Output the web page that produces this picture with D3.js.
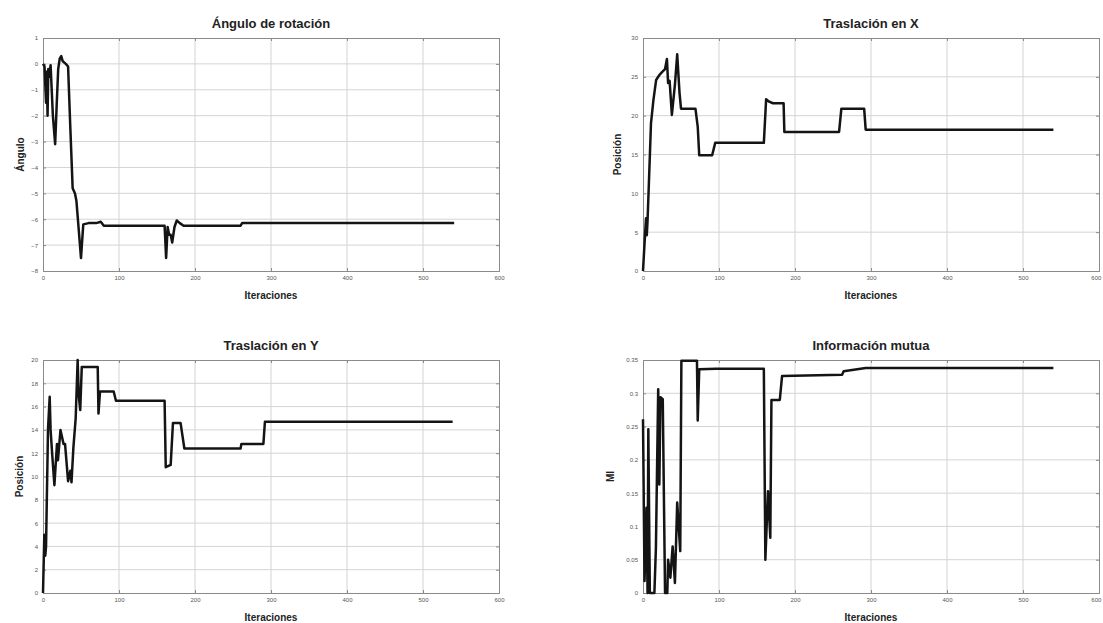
<!DOCTYPE html>
<html>
<head>
<meta charset="utf-8">
<script src="https://cdnjs.cloudflare.com/ajax/libs/d3/7.8.5/d3.min.js"></script>
<style>
  body { margin: 0; background: #fff; }
  svg { display: block; font-family: "Liberation Sans", Arial, sans-serif; }
  .grid line { stroke: #d4d4d4; stroke-width: 1; }
  .ax path { stroke: #8a8a8a; }
  .ax line { stroke: #8a8a8a; }
  .ax text { fill: #555; font-size: 6px; }
</style>
</head>
<body>
<div id="chart"></div>
<script>
// --- datos ---
var xTicks = [0, 100, 200, 300, 400, 500, 600];

var anguloIter = [0, 2, 4, 5, 6, 7, 8, 10, 13, 16, 18, 20, 22, 24, 26, 30, 33, 36, 39, 42, 44, 47, 50, 53, 60, 70, 76, 80, 120, 160, 162, 164, 166, 168, 170, 173, 176, 180, 185, 230, 260, 262, 400, 541];
var anguloVal  = [0, -0.1, -1.5, -0.3, -2.0, -0.2, -0.5, -0.05, -2.0, -3.1, -1.6, -0.2, 0.2, 0.3, 0.1, 0.0, -0.1, -2.5, -4.8, -5.0, -5.3, -6.4, -7.5, -6.2, -6.15, -6.15, -6.1, -6.25, -6.25, -6.25, -7.5, -6.3, -6.6, -6.6, -6.9, -6.3, -6.05, -6.15, -6.25, -6.25, -6.25, -6.15, -6.15, -6.15];

var trasXIter = [0, 2, 4, 5, 6, 8, 10.5, 13.7, 17.3, 22, 25, 29, 31.5, 33, 35, 38, 42, 45, 48, 50, 69, 72, 74, 91, 95, 159, 162, 166, 171, 185, 186, 258, 261, 291, 293, 540];
var trasXVal  = [0, 3.5, 6.8, 4.6, 6.5, 12, 19, 22, 24.6, 25.3, 25.6, 26, 27.3, 24.2, 24.5, 20.1, 24, 27.9, 23, 20.9, 20.9, 18.6, 14.9, 14.9, 16.5, 16.5, 22.1, 21.8, 21.6, 21.6, 17.9, 17.9, 20.9, 20.9, 18.2, 18.2];

var trasYIter = [0, 1.75, 3, 4, 6.6, 8.8, 10, 12, 15, 18.4, 19.7, 23, 27, 29, 33, 36, 37.5, 40, 43, 45.6, 47, 49, 51, 72, 73, 75, 93, 96, 160, 161.5, 168, 171, 181, 186, 260, 261, 290, 292, 539];
var trasYVal  = [0, 5.0, 3.2, 4.0, 14.1, 16.85, 14, 12, 9.25, 12.8, 11.4, 14.0, 12.8, 12.8, 9.6, 10.5, 9.5, 12.5, 15, 20, 17, 15.7, 19.4, 19.4, 15.4, 17.3, 17.3, 16.5, 16.5, 10.8, 11.0, 14.6, 14.6, 12.4, 12.4, 12.8, 12.8, 14.7, 14.7];

var miIter = [0, 2, 4.6, 6, 7, 9, 15, 17, 20, 21.5, 23, 26, 29, 32, 33, 36, 39, 42, 45, 49, 50.5, 71, 72, 74, 96, 159, 161, 164.5, 167.5, 169, 180, 183, 262, 264, 293, 540];
var miVal  = [0.261, 0.018, 0.128, 0, 0.246, 0, 0, 0.068, 0.306, 0.163, 0.294, 0.291, 0, 0, 0.05, 0.023, 0.070, 0.015, 0.136, 0.063, 0.349, 0.349, 0.259, 0.336, 0.337, 0.337, 0.05, 0.153, 0.083, 0.29, 0.29, 0.326, 0.328, 0.333, 0.338, 0.338];

var angTicks = [-8, -7, -6, -5, -4, -3, -2, -1, 0, 1];
var posXTicks = [0, 5, 10, 15, 20, 25, 30];
var posYTicks = [0, 2, 4, 6, 8, 10, 12, 14, 16, 18, 20];
var miTicks = [0, 0.05, 0.1, 0.15, 0.2, 0.25, 0.3, 0.35];

var W = 1103, H = 623;
var svg = d3.select("#chart").append("svg").attr("width", W).attr("height", H);

function panel(opt) {
  var x = d3.scaleLinear().domain([0, 600]).range([opt.x0, opt.x1]);
  var y = d3.scaleLinear().domain(opt.yDomain).range([opt.y1, opt.y0]);
  var g = svg.append("g");

  // rejilla
  var grid = g.append("g").attr("class", "grid");
  grid.selectAll("line.v").data(xTicks.slice(1, -1)).enter().append("line")
    .attr("x1", d => x(d)).attr("x2", d => x(d)).attr("y1", opt.y0).attr("y2", opt.y1);
  grid.selectAll("line.h").data(opt.yTicks.slice(1, -1)).enter().append("line")
    .attr("y1", d => y(d)).attr("y2", d => y(d)).attr("x1", opt.x0).attr("x2", opt.x1);

  // ejes
  var bx = g.append("g").attr("class", "ax").attr("transform", "translate(0," + opt.y1 + ")")
    .call(d3.axisBottom(x).tickValues(xTicks).tickSize(-3).tickPadding(5).tickFormat(d3.format("d")));
  // la ultima etiqueta queda pegada al borde
  if (opt.x1 > W - 10) bx.selectAll(".tick:last-of-type text").attr("text-anchor", "end").attr("dx", "0.3em");
  g.append("g").attr("class", "ax").attr("transform", "translate(0," + opt.y0 + ")")
    .call(d3.axisTop(x).tickValues(xTicks).tickSize(-3).tickFormat(""));
  g.append("g").attr("class", "ax").attr("transform", "translate(" + opt.x0 + ",0)")
    .call(d3.axisLeft(y).tickValues(opt.yTicks).tickSize(-3).tickPadding(5).tickFormat(opt.fmt));
  g.append("g").attr("class", "ax").attr("transform", "translate(" + opt.x1 + ",0)")
    .call(d3.axisRight(y).tickValues(opt.yTicks).tickSize(-3).tickFormat(""));

  // curva
  var pts = opt.iter.map((d, i) => [d, opt.val[i]]);
  g.append("path").datum(pts)
    .attr("fill", "none").attr("stroke", "#141414").attr("stroke-width", 2.5)
    .attr("stroke-linejoin", "round")
    .attr("d", d3.line().x(d => x(d[0])).y(d => y(d[1])));

  // textos
  var cx = (opt.x0 + opt.x1) / 2;
  g.append("text").attr("x", cx).attr("y", opt.y0 - 10).attr("text-anchor", "middle")
    .attr("font-size", "13px").attr("font-weight", "bold").attr("fill", "#222").text(opt.title);
  g.append("text").attr("x", cx).attr("y", opt.y1 + 28).attr("text-anchor", "middle")
    .attr("font-size", "10px").attr("font-weight", "bold").attr("fill", "#222").text("Iteraciones");
  var cy = (opt.y0 + opt.y1) / 2;
  g.append("text").attr("transform", "translate(" + opt.ylx + "," + cy + ") rotate(-90)")
    .attr("text-anchor", "middle").attr("dy", "0.35em")
    .attr("font-size", "10px").attr("font-weight", "bold").attr("fill", "#222").text(opt.ylabel);
}

panel({ x0: 43, x1: 499, y0: 38, y1: 271, yDomain: [-8, 1], yTicks: angTicks, fmt: d3.format("d"),
  iter: anguloIter, val: anguloVal, title: "Ángulo de rotación", ylabel: "Ángulo", ylx: 20 });
panel({ x0: 643, x1: 1099, y0: 38, y1: 271, yDomain: [0, 30], yTicks: posXTicks, fmt: d3.format("d"),
  iter: trasXIter, val: trasXVal, title: "Traslación en X", ylabel: "Posición", ylx: 617 });
panel({ x0: 43, x1: 499, y0: 360, y1: 593, yDomain: [0, 20], yTicks: posYTicks, fmt: d3.format("d"),
  iter: trasYIter, val: trasYVal, title: "Traslación en Y", ylabel: "Posición", ylx: 19 });
panel({ x0: 643, x1: 1099, y0: 360, y1: 593, yDomain: [0, 0.35], yTicks: miTicks, fmt: d => String(+d.toFixed(2)),
  iter: miIter, val: miVal, title: "Información mutua", ylabel: "MI", ylx: 610 });
</script>
</body>
</html>
